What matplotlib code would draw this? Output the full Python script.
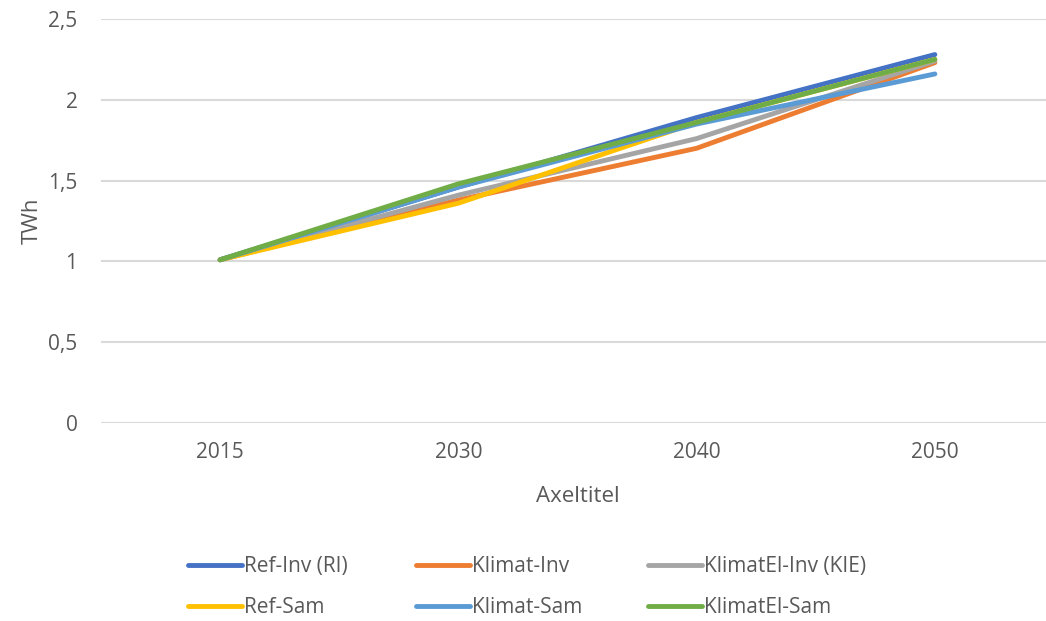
import matplotlib
matplotlib.use('Agg')
import matplotlib.pyplot as plt
from matplotlib.lines import Line2D

plt.rcParams['font.family'] = ['Open Sans', 'DejaVu Sans']

# data
years = ['2015', '2030', '2040', '2050']
ref_inv = [1.01, 1.46, 1.89, 2.28]
klimat_inv = [1.01, 1.38, 1.70, 2.23]
klimatel_inv = [1.01, 1.41, 1.76, 2.24]
ref_sam = [1.01, 1.36, 1.86, 2.25]
klimat_sam = [1.01, 1.46, 1.85, 2.16]
klimatel_sam = [1.01, 1.48, 1.86, 2.25]

names = ['Ref-Inv (RI)', 'Klimat-Inv', 'KlimatEl-Inv (KIE)',
         'Ref-Sam', 'Klimat-Sam', 'KlimatEl-Sam']
series = [ref_inv, klimat_inv, klimatel_inv, ref_sam, klimat_sam, klimatel_sam]
colors = ['#4472C4', '#ED7D31', '#A5A5A5', '#FFC000', '#5B9BD5', '#70AD47']

txt = '#595959'
W, H = 1046, 621

fig = plt.figure(figsize=(W / 100, H / 100), dpi=100)
ax = fig.add_axes([101 / W, (H - 423) / H, 953 / W, 404 / H])

x = range(len(years))
for name, vals, c in zip(names, series, colors):
    ax.plot(x, vals, color=c, lw=3.5, solid_capstyle='round',
            solid_joinstyle='round', label=name)

ax.set_xlim(-0.5, 3.5)
ax.set_ylim(0, 2.5)
ax.set_xticks(list(x))
ax.set_xticklabels(years)
ax.set_yticks([0, 0.5, 1, 1.5, 2, 2.5])
ax.set_yticklabels(['0', '0,5', '1', '1,5', '2', '2,5'])
ax.tick_params(length=0, labelsize=15, colors=txt)
ax.tick_params(axis='x', pad=14)
ax.tick_params(axis='y', pad=17)
ax.grid(axis='y', color='#d9d9d9', lw=1.5)
ax.set_axisbelow(True)
for s in ax.spines.values():
    s.set_visible(False)

ax.set_xlabel('Axeltitel', fontsize=16, color=txt, labelpad=16)
ax.set_ylabel('TWh', fontsize=16, color=txt, labelpad=4)

# legend: one small legend per column so each column sits where it should
col_x = [188, 416, 648]
for k, xs in enumerate(col_x):
    idx = [k, k + 3]
    hs = [Line2D([], [], color=colors[i], lw=3.5, solid_capstyle='round') for i in idx]
    fig.legend(hs, [names[i] for i in idx], loc='center left',
               bbox_to_anchor=(xs / W, 1 - 587 / H), frameon=False,
               fontsize=15, labelcolor=txt, handlelength=2.6,
               handletextpad=0.1, labelspacing=0.95,
               borderpad=0, borderaxespad=0)

fig.savefig('out.png', dpi=100)
